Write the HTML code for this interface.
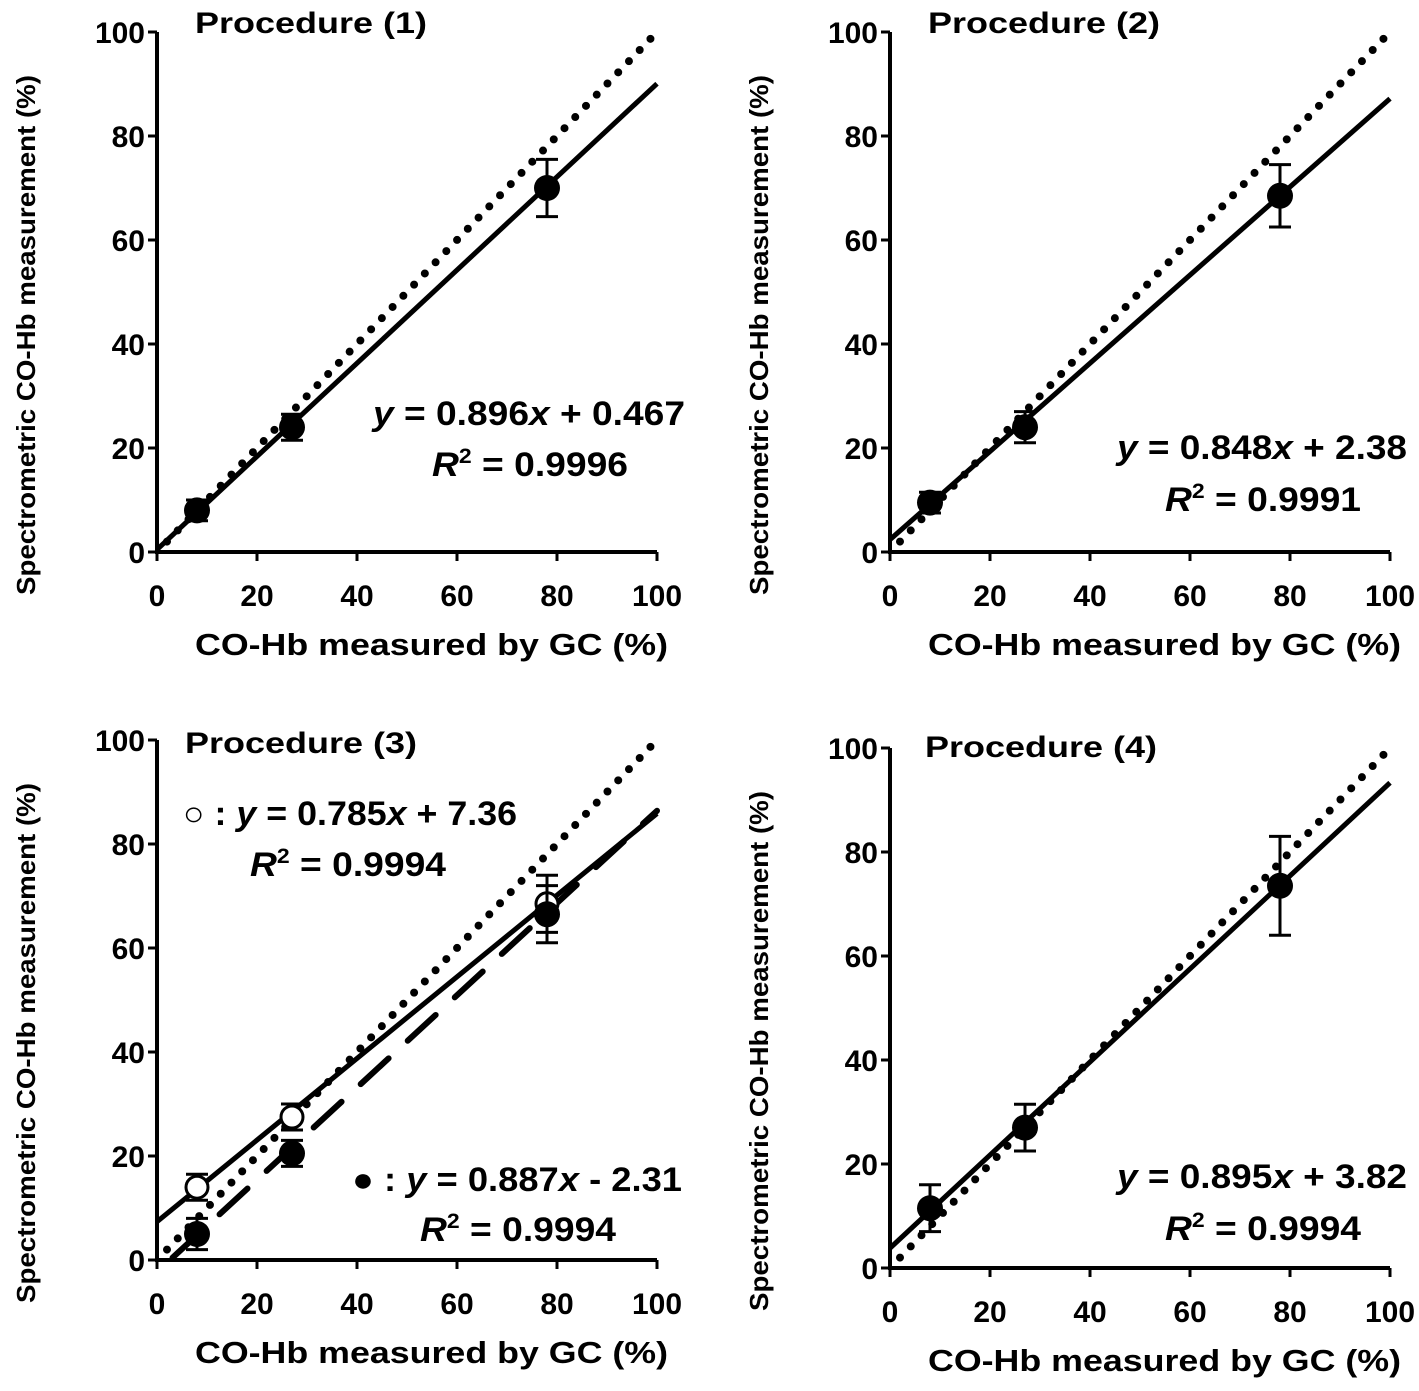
<!DOCTYPE html>
<html><head><meta charset="utf-8"><style>
body{margin:0;background:#fff}
svg{display:block;font-family:"Liberation Sans",Arial,sans-serif;font-weight:bold}
</style></head><body>
<svg id="chart" width="1419" height="1391" viewBox="0 0 1419 1391"></svg>
<script>
const xTicks=[0,20,40,60,80,100];
const yTicks=[0,20,40,60,80,100];
const gcX=[8,27,78];
const p1Y=[8,24,70], p1E=[2,2.5,5.5];
const p2Y=[9.5,24,68.5], p2E=[2,3,6];
const p3OpenY=[14,27.5,68.5], p3OpenE=[2.5,2.5,5.5];
const p3FillY=[5,20.5,66.5], p3FillE=[3,2.5,5.5];
const p4Y=[11.5,27,73.5], p4E=[4.5,4.5,9.5];
const slopes=[0.896,0.848,0.785,0.895], intercepts=[0.467,2.38,7.36,3.82];
const p3FillSlope=0.887, p3FillIntercept=-2.31;

const svg=document.getElementById('chart');
const NS='http://www.w3.org/2000/svg';
function mk(tag,attrs,parent,text){const e=document.createElementNS(NS,tag);for(const k in attrs)e.setAttribute(k,attrs[k]);if(text!==undefined)e.textContent=text;(parent||svg).appendChild(e);return e;}

const panels=[
 {x0:157,y0:552,title:'Procedure (1)',tx:195,ty:33,ys:[p1Y],es:[p1E],open:[false]},
 {x0:890,y0:552,title:'Procedure (2)',tx:928,ty:33,ys:[p2Y],es:[p2E],open:[false]},
 {x0:157,y0:1260,title:'Procedure (3)',tx:185,ty:753,ys:[p3OpenY,p3FillY],es:[p3OpenE,p3FillE],open:[true,false]},
 {x0:890,y0:1268,title:'Procedure (4)',tx:925,ty:757,ys:[p4Y],es:[p4E],open:[false]}
];
panels.forEach((p,i)=>{
 const g=mk('g',{});
 
 
 const X=v=>p.x0+v*5, Y=v=>p.y0-v*5.2;
 const id=mk('line',{x1:X(2),y1:Y(2),x2:X(100),y2:Y(100),stroke:'#000','stroke-width':8,'stroke-linecap':'round','stroke-dasharray':'0 15.5'},g);
 
 
 const b=intercepts[i], m=slopes[i];
 const rl=mk('line',{x1:X(0),y1:Y(b),x2:X(100),y2:Y(b+m*100),stroke:'#000','stroke-width':5},g);
 
 
 if(i===2){
  const xs=-p3FillIntercept/p3FillSlope+0.5;
  const dl=mk('line',{x1:X(xs),y1:Y(p3FillIntercept+p3FillSlope*xs),x2:X(100),y2:Y(p3FillIntercept+p3FillSlope*100),stroke:'#000','stroke-width':6,'stroke-linecap':'round','stroke-dasharray':'38 26'},g);
  
  
 }
 const ax=mk('path',{d:`M${X(0)},${Y(100)}V${Y(0)}H${X(100)}`,stroke:'#000','stroke-width':4,fill:'none'},g);
 
 
 yTicks.forEach(t=>{
  mk('line',{x1:X(0)-9,y1:Y(t),x2:X(0),y2:Y(t),stroke:'#000','stroke-width':3},g);
  const tl=mk('text',{x:X(0)-12,y:Y(t)+11,'text-anchor':'end','font-size':30},g,t);
  
  
 });
 xTicks.forEach(t=>{
  mk('line',{x1:X(t),y1:Y(0),x2:X(t),y2:Y(0)+9,stroke:'#000','stroke-width':3},g);
  const tl=mk('text',{x:X(t),y:Y(0)+54,'text-anchor':'middle','font-size':30},g,t);
  
  
 });
 const xt=mk('text',{x:X(0)+38,y:Y(0)+103,'font-size':31,textLength:473,lengthAdjust:'spacingAndGlyphs'},g,'CO-Hb measured by GC (%)');
 
 
 const yt=mk('text',{transform:`translate(${p.x0-122},${Y(0)+43}) rotate(-90)`,'font-size':26,textLength:520,lengthAdjust:'spacingAndGlyphs'},g,'Spectrometric CO-Hb measurement  (%)');
 
 
 const tt=mk('text',{x:p.tx,y:p.ty,'font-size':30,textLength:232,lengthAdjust:'spacingAndGlyphs'},g,p.title);
 
 
 p.ys.forEach((ys,s)=>{
  ys.forEach((v,k)=>{
   const cx=X(gcX[k]), e=p.es[s][k];
   const eb=mk('path',{d:`M${cx},${Y(v+e)}V${Y(v-e)}M${cx-11},${Y(v+e)}H${cx+11}M${cx-11},${Y(v-e)}H${cx+11}`,stroke:'#000','stroke-width':3,fill:'none'},g);
   
   
   const c=mk('circle',{cx:cx,cy:Y(v),r:p.open[s]?11:13,fill:p.open[s]?'#fff':'#000',stroke:'#000','stroke-width':p.open[s]?3:0},g);
   
   
  });
 });
});
function eq(x,y,len,parts,name){
 const t=mk('text',{x:x,y:y,'font-size':34,textLength:len,lengthAdjust:'spacingAndGlyphs'});
 
 
 parts.forEach(pp=>{mk('tspan',pp[1]||{},t,pp[0]);});
}
const it={'font-style':'italic'}, sup={'font-size':21,dy:-13};
eq(373,425,312,[['y',it],[' = 0.896'],['x',it],[' + 0.467']],'equation-1');
eq(432,476,196,[['R',it],['2',sup],[' = 0.9996',{dy:13}]],'r2-1');
eq(1117,459,290,[['y',it],[' = 0.848'],['x',it],[' + 2.38']],'equation-2');
eq(1165,511,196,[['R',it],['2',sup],[' = 0.9991',{dy:13}]],'r2-2');
eq(183,825,334,[['○ : '],['y',it],[' = 0.785'],['x',it],[' + 7.36']],'equation-3-open');
eq(250,876,196,[['R',it],['2',sup],[' = 0.9994',{dy:13}]],'r2-3-open');
eq(352,1191,330,[['● : '],['y',it],[' = 0.887'],['x',it],[' - 2.31']],'equation-3-filled');
eq(420,1241,196,[['R',it],['2',sup],[' = 0.9994',{dy:13}]],'r2-3-filled');
eq(1117,1188,290,[['y',it],[' = 0.895'],['x',it],[' + 3.82']],'equation-4');
eq(1165,1240,196,[['R',it],['2',sup],[' = 0.9994',{dy:13}]],'r2-4');
</script>
</body></html>
